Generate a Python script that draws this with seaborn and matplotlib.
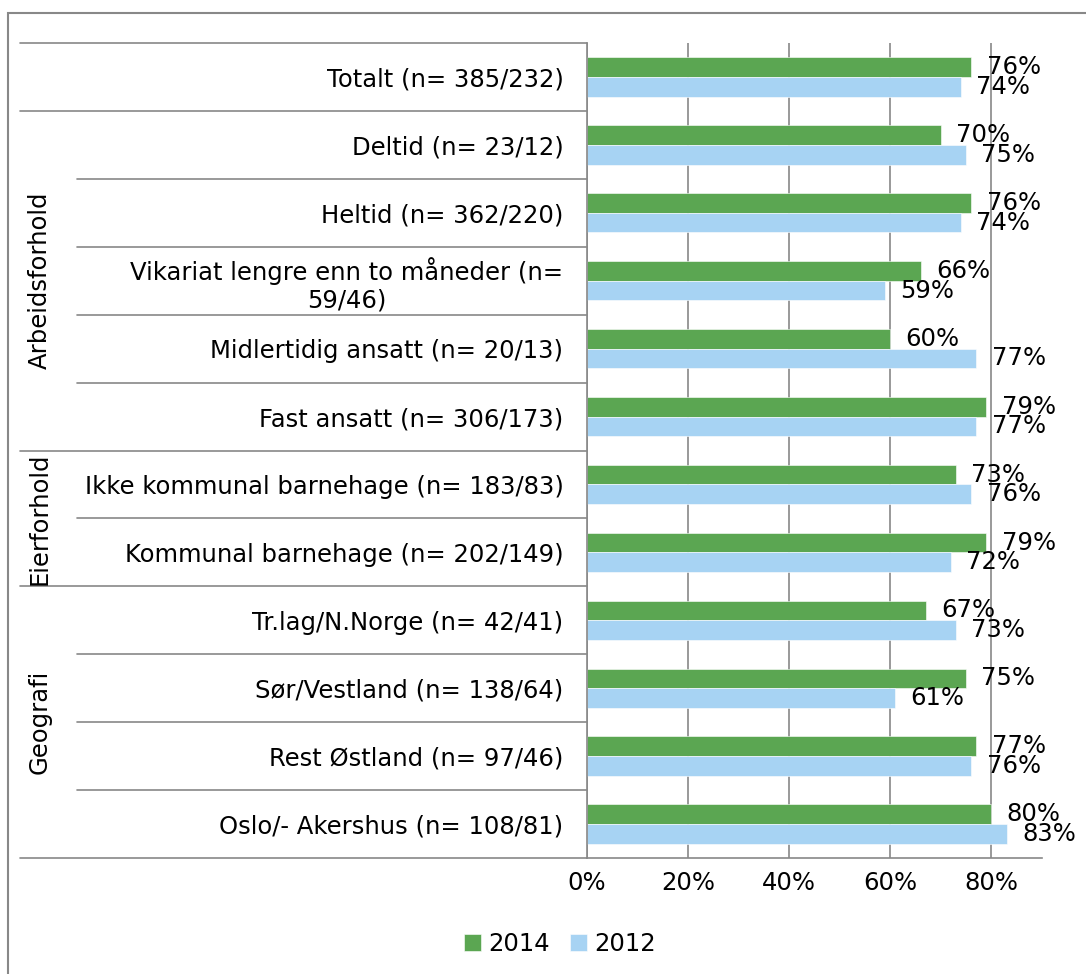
import pandas as pd
import matplotlib.pyplot as plt
import matplotlib.transforms as mtransforms
from matplotlib.patches import Rectangle
import seaborn as sns

# Data
kategorier = [
    'Totalt (n= 385/232)',
    'Deltid (n= 23/12)',
    'Heltid (n= 362/220)',
    'Vikariat lengre enn to måneder (n=\n59/46)',
    'Midlertidig ansatt (n= 20/13)',
    'Fast ansatt (n= 306/173)',
    'Ikke kommunal barnehage (n= 183/83)',
    'Kommunal barnehage (n= 202/149)',
    'Tr.lag/N.Norge (n= 42/41)',
    'Sør/Vestland (n= 138/64)',
    'Rest Østland (n= 97/46)',
    'Oslo/- Akershus (n= 108/81)',
]
verdi_2014 = [0.76, 0.70, 0.76, 0.66, 0.60, 0.79, 0.73, 0.79, 0.67, 0.75, 0.77, 0.80]
verdi_2012 = [0.74, 0.75, 0.74, 0.59, 0.77, 0.77, 0.76, 0.72, 0.73, 0.61, 0.76, 0.83]
grupper = ['Arbeidsforhold', 'Eierforhold', 'Geografi']
gruppe_start = [1, 6, 8]
gruppe_slutt = [5, 7, 11]
aar = ['2014', '2012']
farger = ['#5BA652', '#A7D3F3']

df = pd.DataFrame({'kategori': kategorier, '2014': verdi_2014, '2012': verdi_2012})
df_long = df.melt(id_vars='kategori', value_vars=aar, var_name='år', value_name='andel')

sns.set_style('white')
plt.rcParams['font.family'] = ['DejaVu Sans']
plt.rcParams['text.color'] = 'black'
plt.rcParams['xtick.labelcolor'] = 'black'
plt.rcParams['ytick.labelcolor'] = 'black'
FS = 17.5
W, H = 1086, 974

fig = plt.figure(figsize=(W / 100, H / 100), dpi=100)
ax = fig.add_axes([587 / W, 1 - 858 / H, (1042 - 587) / W, (858 - 43) / H])

sns.barplot(data=df_long, y='kategori', x='andel', hue='år', palette=farger, saturation=1,
            width=0.58, orient='h', ax=ax, edgecolor='white', linewidth=0.4)

ax.set_xlim(0, 0.9)
ax.set_ylim(len(kategorier) - 0.5, -0.5)
ax.set_xticks([0, 0.2, 0.4, 0.6, 0.8])
ax.set_xticklabels(['0%', '20%', '40%', '60%', '80%'], fontsize=FS)
ax.set_xlabel('')
ax.set_ylabel('')
ax.tick_params(axis='x', length=6, width=1.2, color='#888888', pad=3, direction='out')
ax.tick_params(axis='y', length=0, pad=17, labelsize=FS)
for lab in ax.get_yticklabels():
    lab.set_multialignment('center')

ax.xaxis.grid(True, color='#888888', linewidth=1.2)
ax.set_axisbelow(True)
for s in ['top', 'right']:
    ax.spines[s].set_visible(False)
for s in ['left', 'bottom']:
    ax.spines[s].set_color('#888888')
    ax.spines[s].set_linewidth(1.2)

# verdietiketter
for cont, verdier in zip(ax.containers, [verdi_2014, verdi_2012]):
    ax.bar_label(cont, labels=[f'{v * 100:.0f}%' for v in verdier],
                 padding=11, fontsize=FS)

# skillelinjer og gruppetitler til venstre
trans = mtransforms.blended_transform_factory(fig.transFigure, ax.transData)
x_akse = 587 / W
grenser_hel = [0, 1, 6, 8, 12]
for k in range(len(kategorier) + 1):
    x0 = 20 / W if k in grenser_hel else 77 / W
    ax.plot([x0, x_akse], [k - 0.5, k - 0.5], transform=trans, color='#888888',
            lw=1.2, clip_on=False)
for navn, a, b in zip(grupper, gruppe_start, gruppe_slutt):
    ax.text(40 / W, (a + b) / 2, navn, transform=trans, rotation=90,
            ha='center', va='center', fontsize=FS)

# forklaring
handles, labels = ax.get_legend_handles_labels()
ax.legend_.remove()
fig.legend(handles, labels, loc='center', bbox_to_anchor=(560 / W, 1 - 944 / H),
           ncol=2, frameon=False, fontsize=FS, handlelength=0.7, handleheight=0.7,
           handletextpad=0.3, columnspacing=0.8)

# ytre ramme
fig.patches.append(Rectangle((8 / W, -0.1), 1.2, 1 - 13 / H + 0.1, transform=fig.transFigure,
                             fill=False, edgecolor='#888888', linewidth=1.5))

plt.savefig('out.png', dpi=100)
plt.close()
